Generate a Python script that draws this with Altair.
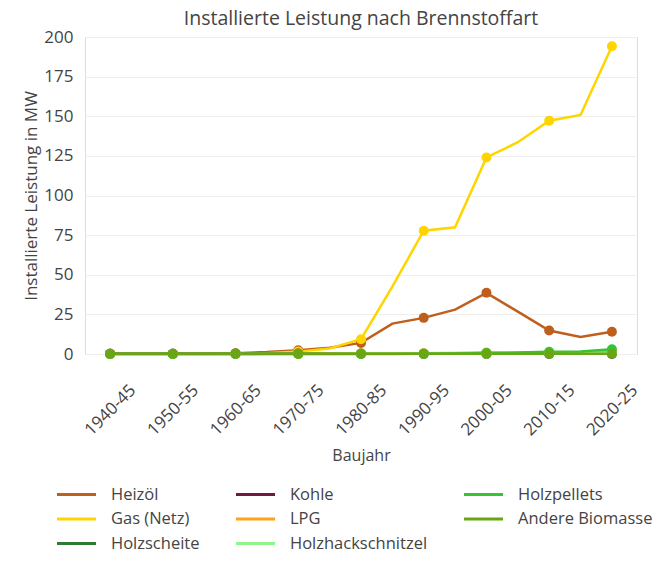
import altair as alt
import pandas as pd

cats = ["1940-45", "1945-50", "1950-55", "1955-60", "1960-65", "1965-70", "1970-75",
        "1975-80", "1980-85", "1985-90", "1990-95", "1995-00", "2000-05", "2005-10",
        "2010-15", "2015-20", "2020-25"]
labeled = cats[::2]

heizoel = [0.1, 0.1, 0.2, 0.3, 0.5, 1.2, 2.4, 4.0, 7.0, 19.2, 22.8, 28.0, 38.6, 26.7, 14.8, 10.8, 14.0]
gas = [0.0, 0.0, 0.0, 0.0, 0.1, 0.5, 1.5, 3.5, 9.3, 42.5, 77.8, 79.9, 124.0, 133.6, 147.2, 150.8, 194.2]
holzscheite = [0.2, 0.2, 0.2, 0.2, 0.2, 0.2, 0.3, 0.3, 0.3, 0.3, 0.2, 0.2, 0.2, 0.2, 0.2, 0.2, 0.2]
kohle = [0.1, 0.1, 0.1, 0.1, 0.1, 0.1, 0.2, 0.2, 0.2, 0.1, 0.1, 0.1, 0.1, 0.1, 0.1, 0.1, 0.1]
lpg = [0.0, 0.0, 0.0, 0.0, 0.0, 0.1, 0.2, 0.3, 0.4, 0.5, 0.5, 0.6, 0.9, 0.8, 0.7, 0.8, 1.2]
hackschnitzel = [0.0, 0.0, 0.0, 0.0, 0.0, 0.0, 0.0, 0.0, 0.1, 0.1, 0.1, 0.1, 0.2, 0.3, 0.3, 0.3, 0.4]
pellets = [0.0, 0.0, 0.0, 0.0, 0.0, 0.0, 0.0, 0.0, 0.0, 0.0, 0.1, 0.3, 0.6, 0.9, 1.4, 1.6, 3.0]
biomasse = [0.1, 0.1, 0.1, 0.1, 0.1, 0.1, 0.1, 0.1, 0.1, 0.1, 0.1, 0.1, 0.1, 0.1, 0.1, 0.1, 0.2]

series = [
    ("Heizöl", heizoel, "#bf5f1d"),
    ("Gas (Netz)", gas, "#ffd500"),
    ("Holzscheite", holzscheite, "#2f7a2f"),
    ("Kohle", kohle, "#6e1a45"),
    ("LPG", lpg, "#ffa21c"),
    ("Holzhackschnitzel", hackschnitzel, "#8ef58a"),
    ("Holzpellets", pellets, "#36c436"),
    ("Andere Biomasse", biomasse, "#69a614"),
]

rows = []
for name, vals, _ in series:
    for c, v in zip(cats, vals):
        rows.append({"Baujahr": c, "Wert": v, "Brennstoff": name})
df = pd.DataFrame(rows)

legend_order = [n for n, _, _ in series]
cmap = {n: c for n, _, c in series}
color_scale = alt.Scale(domain=legend_order, range=[cmap[n] for n in legend_order])

FONT = "Open Sans"
TXT = "#444444"

x_enc = alt.X("Baujahr:N", sort=cats,
              scale=alt.Scale(type="point", domain=cats, padding=0.8),
              axis=alt.Axis(values=labeled, labelAngle=-45, labelAlign="center",
                            labelBaseline="middle", labelPadding=56, ticks=False,
                            domain=False, grid=False, labelFontSize=17,
                            labelColor=TXT, title="Baujahr", titleFontSize=16,
                            titleColor=TXT, titleFontWeight="normal", titlePadding=9,
                            labelFont=FONT, titleFont=FONT))
y_enc = alt.Y("Wert:Q", scale=alt.Scale(domain=[0, 200], nice=False),
              axis=alt.Axis(values=[0, 25, 50, 75, 100, 125, 150, 175, 200],
                            ticks=False, domain=False, gridColor="#eeeeee",
                            labelFontSize=17, labelColor=TXT, labelPadding=12,
                            title="Installierte Leistung in MW", titleFontSize=17,
                            titleColor=TXT, titleFontWeight="normal", titlePadding=3,
                            labelFont=FONT, titleFont=FONT))

color_enc = alt.Color("Brennstoff:N", scale=color_scale,
                      legend=alt.Legend(orient="none", legendX=-23, legendY=443,
                                        columns=3, direction="vertical", title=None,
                                        symbolType="M-1.5,0H1.5", symbolSize=676,
                                        symbolStrokeWidth=3, labelFontSize=16.5,
                                        labelColor=TXT, labelFont=FONT,
                                        labelOffset=20, columnPadding=30,
                                        rowPadding=1.5, padding=0))

lines = alt.Chart(df).mark_line(strokeWidth=2.5).encode(
    x=x_enc, y=y_enc, color=color_enc, detail="Brennstoff:N")
points = alt.Chart(df).transform_filter(
    alt.FieldOneOfPredicate(field="Baujahr", oneOf=labeled)
).mark_point(filled=True, size=100, opacity=1).encode(
    x=x_enc, y=y_enc, color=alt.Color("Brennstoff:N", scale=color_scale, legend=None))

chart = alt.layer(lines, points).properties(
    width=552, height=317,
    title=alt.TitleParams("Installierte Leistung nach Brennstoffart", fontSize=19.5,
                          color=TXT, font=FONT, fontWeight="normal", anchor="middle",
                          offset=-1),
    autosize=alt.AutoSizeParams(type="none"),
    padding={"left": 77, "top": 29, "right": 17, "bottom": 199},
).configure_view(stroke=None).configure(font=FONT)

chart.save("out.html", embed_options={"renderer": "svg", "actions": False})
